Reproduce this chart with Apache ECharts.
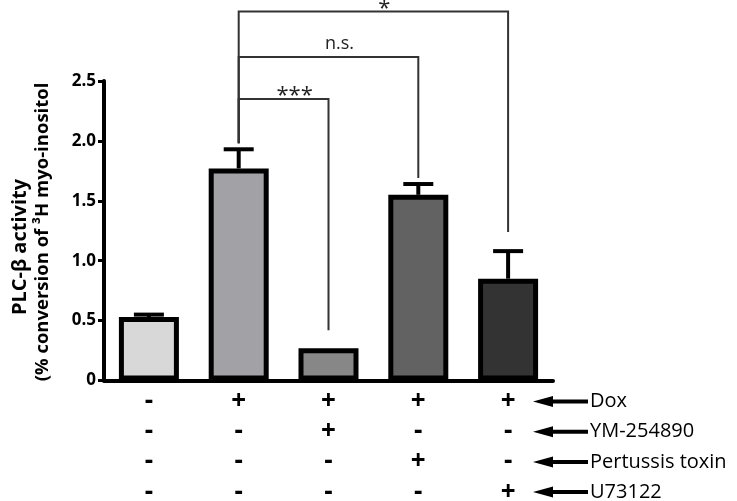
<!DOCTYPE html>
<html>
<head>
<meta charset="utf-8">
<script src="https://cdn.jsdelivr.net/npm/echarts@6/dist/echarts.min.js"></script>
<style>
    html, body { margin: 0; padding: 0; background: #fff; }
    #chart { width: 737px; height: 501px; }
</style>
</head>
<body>
<div id="chart"></div>
<script>
// data
var groups = ['G1', 'G2', 'G3', 'G4', 'G5'];
var means = [0.53, 1.77, 0.27, 1.55, 0.85];
var errors = [0.02, 0.16, 0, 0.09, 0.23];
var barColors = ['#d8d8d8', '#a2a2a6', '#878787', '#626262', '#333333'];

// treatment table under the bars
var treatments = ['Dox', 'YM-254890', 'Pertussis toxin', 'U73122'];
var dox = ['-', '+', '+', '+', '+'];
var ym = ['-', '-', '+', '-', '-'];
var ptx = ['-', '-', '-', '+', '-'];
var u73 = ['-', '-', '-', '-', '+'];

// significance brackets: [from, to, height, footFrom, footTo, label]
var brackets = [
    [1, 2, 2.35, 1.98, 0.42, '***'],
    [1, 3, 2.70, 1.98, 1.69, 'n.s.'],
    [1, 4, 3.08, 1.98, 1.24, '*']
];

var chartDom = document.getElementById('chart');
var myChart = echarts.init(chartDom);

var font = "'Open Sans', 'Liberation Sans', sans-serif";

var graphics = [];
// y axis title, two rotated lines
graphics.push({
    type: 'text', x: 20, y: 247, rotation: Math.PI / 2,
    style: { text: 'PLC-β activity', font: 'bold 20px ' + font, fill: '#000', align: 'center', verticalAlign: 'middle' }
});
graphics.push({
    type: 'text', x: 43, y: 232, rotation: Math.PI / 2,
    style: { text: '(% conversion of ³H myo-inositol', font: 'bold 18.5px ' + font, fill: '#000', align: 'center', verticalAlign: 'middle' }
});
treatments.forEach(function (name, i) {
    var y = 401.5 + i * 30.2;
    graphics.push({
        type: 'polygon',
        shape: { points: [[533, y], [553, y - 5.5], [553, y + 5.5]] },
        style: { fill: '#000' }
    });
    graphics.push({
        type: 'rect',
        shape: { x: 550, y: y - 2, width: 38, height: 4 },
        style: { fill: '#000' }
    });
    graphics.push({
        type: 'text', x: 590, y: y,
        style: { text: name, font: '20px ' + font, fill: '#000', verticalAlign: 'middle' }
    });
});

myChart.setOption({
    animation: false,
    backgroundColor: '#fff',
    grid: { left: 104, right: 184, top: 81, bottom: 120.5, outerBoundsMode: 'none' },
    xAxis: {
        type: 'category',
        data: groups,
        axisLine: { lineStyle: { color: '#000', width: 4 } },
        axisTick: { show: false },
        axisLabel: {
            margin: 6,
            lineHeight: 30.2,
            fontFamily: font,
            fontWeight: 'bold',
            fontSize: 26,
            color: '#000',
            formatter: function (v, i) {
                return [dox[i], ym[i], ptx[i], u73[i]].join('\n');
            }
        }
    },
    yAxis: {
        type: 'value',
        min: 0,
        max: 2.5,
        interval: 0.5,
        splitLine: { show: false },
        axisLine: { show: true, lineStyle: { color: '#000', width: 4 } },
        axisTick: { show: true, length: 6, lineStyle: { color: '#000', width: 3 } },
        axisLabel: {
            margin: 8,
            fontFamily: font,
            fontWeight: 'bold',
            fontSize: 17,
            color: '#000',
            formatter: function (v) { return v === 0 ? '0' : v.toFixed(1); }
        }
    },
    graphic: graphics,
    series: [
        {
            type: 'custom',
            z: 1,
            data: means.map(function (m, i) { return [i, m, m + errors[i]]; }),
            renderItem: function (params, api) {
                var lo = api.coord([api.value(0), api.value(1)]);
                var hi = api.coord([api.value(0), api.value(2)]);
                if (api.value(2) - api.value(1) <= 0) return { type: 'group', children: [] };
                return {
                    type: 'group',
                    children: [
                        { type: 'line', shape: { x1: lo[0], y1: lo[1], x2: hi[0], y2: hi[1] }, style: { stroke: '#000', lineWidth: 4 } },
                        { type: 'line', shape: { x1: hi[0] - 15, y1: hi[1], x2: hi[0] + 15, y2: hi[1] }, style: { stroke: '#000', lineWidth: 4 } }
                    ]
                };
            }
        },
        {
            type: 'bar',
            z: 2,
            barWidth: 60,
            data: means.map(function (m, i) {
                return { value: m, itemStyle: { color: barColors[i], borderColor: '#000', borderWidth: 5 } };
            })
        },
        {
            type: 'custom',
            z: 3,
            clip: false,
            data: brackets,
            renderItem: function (params, api) {
                var b = brackets[params.dataIndex];
                var p1 = api.coord([b[0], b[3]]);
                var p2 = api.coord([b[0], b[2]]);
                var p3 = api.coord([b[1], b[2]]);
                var p4 = api.coord([b[1], b[4]]);
                var stars = b[5].indexOf('*') >= 0;
                return {
                    type: 'group',
                    children: [
                        {
                            type: 'polyline',
                            shape: { points: [p1, p2, p3, p4] },
                            style: { stroke: '#333', lineWidth: 2, fill: null }
                        },
                        {
                            type: 'text',
                            x: (p2[0] + p3[0]) / 2 + 11,
                            y: stars ? p2[1] - 3 : p2[1] - 4,
                            style: {
                                text: b[5],
                                font: (stars ? '22px ' : '18px ') + font,
                                fill: '#222',
                                align: 'center',
                                verticalAlign: stars ? 'middle' : 'bottom'
                            }
                        }
                    ]
                };
            }
        }
    ]
});
</script>
</body>
</html>
